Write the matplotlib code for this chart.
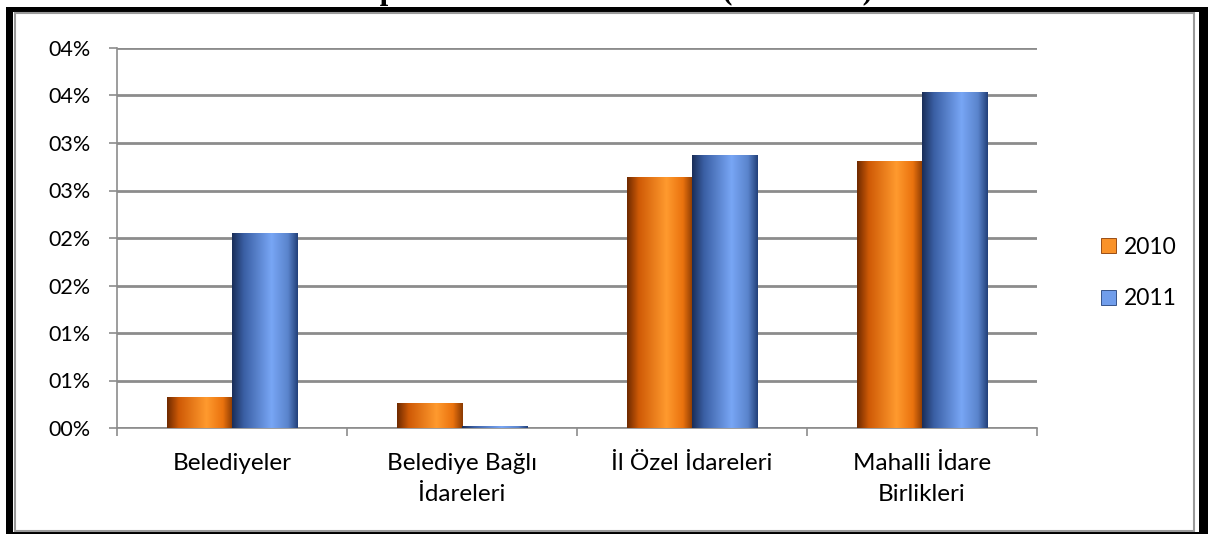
import numpy as np
import matplotlib
matplotlib.use("Agg")
import matplotlib.pyplot as plt
from matplotlib.colors import LinearSegmentedColormap
from matplotlib.patches import Rectangle, Patch

# ----------------------------- Data -----------------------------
categories = ["Belediyeler", "Belediye Bağlı\nİdareleri", "İl Özel İdareleri", "Mahalli İdare\nBirlikleri"]
years = ["2010", "2011"]
vals_2010 = [0.0033, 0.0026, 0.0264, 0.0281]
vals_2011 = [0.0205, 0.0002, 0.0287, 0.0354]
y_ticks = [0.0, 0.005, 0.01, 0.015, 0.02, 0.025, 0.03, 0.035, 0.04]
y_tick_labels = ["00%", "01%", "01%", "02%", "02%", "03%", "03%", "04%", "04%"]
title = "Toplam Harcamalara Oranı (2010-2011)"

# cylinder-like shading, dark edge -> highlight -> dark edge
orange_cm = LinearSegmentedColormap.from_list(
    "org", [(0, "#6e2a00"), (0.18, "#cf5a06"), (0.6, "#ff9a2e"), (0.85, "#ea720e"), (1, "#8a3a02")])
blue_cm = LinearSegmentedColormap.from_list(
    "blu", [(0, "#1a2e58"), (0.18, "#3a5fa4"), (0.6, "#78a6f5"), (0.85, "#5a84cc"), (1, "#22407a")])

plt.rcParams["font.family"] = ["Lato", "DejaVu Sans"]

W, H = 1208, 534
fig = plt.figure(figsize=(W / 100, H / 100), dpi=100)
fig.patch.set_facecolor("white")

# outer frame: thick black border, thin grey inner line
fig.patches.append(Rectangle((6 / W, 0), (W - 6) / W, (H - 7) / H, transform=fig.transFigure,
                             facecolor="black", edgecolor="none", zorder=-3))
fig.patches.append(Rectangle((13 / W, 2 / H), (1199 - 13) / W, (H - 12 - 2) / H, transform=fig.transFigure,
                             facecolor="white", edgecolor="none", zorder=-2))
fig.patches.append(Rectangle((15 / W, 3 / H), (1194 - 15) / W, (H - 13 - 3) / H, transform=fig.transFigure,
                             facecolor="none", edgecolor="#9a9a9a", lw=1.5, zorder=-1))

# title is mostly cut off at the top edge (as in the source image)
fig.text(610 / W, 1 + 1.5 / H, title, ha="center", va="baseline", fontsize=22,
         family=["Liberation Serif"], fontweight="bold")

ax = fig.add_axes([117 / W, 1 - 428 / H, (1037 - 117) / W, (428 - 48) / H])
ax.set_facecolor("none")

x = np.arange(len(categories))
bw = 0.283
grad = np.linspace(0, 1, 256).reshape(1, -1)

for vals, cm, off, lab in [(vals_2010, orange_cm, -bw / 2, years[0]), (vals_2011, blue_cm, bw / 2, years[1])]:
    bars = ax.bar(x + off, vals, width=bw, color=cm(0.6), edgecolor="none", zorder=3, label=lab)
    for b in bars:
        x0, y0 = b.get_x(), b.get_y()
        im = ax.imshow(grad, cmap=cm, aspect="auto", extent=(x0, x0 + b.get_width(), y0, y0 + b.get_height()),
                       zorder=4, interpolation="bilinear")
        im.set_clip_path(b)

ax.set_xlim(-0.5, len(categories) - 0.5)
ax.set_ylim(0, 0.04)

ax.set_yticks(y_ticks)
ax.set_yticklabels(y_tick_labels, fontsize=15.5)
ax.yaxis.grid(True, color="#8c8c8c", lw=2)
ax.set_axisbelow(True)

ax.set_xticks(x)
ax.set_xticklabels(categories, fontsize=17.5, linespacing=1.6)
ax.set_xticks(np.arange(len(categories) + 1) - 0.5, minor=True)
ax.tick_params(axis="x", which="major", length=0, pad=18)
ax.tick_params(axis="x", which="minor", length=6, color="#8c8c8c", width=1.2)
ax.tick_params(axis="y", length=6, color="#8c8c8c", width=1.2, pad=13)

for s in ["top", "right"]:
    ax.spines[s].set_visible(False)
ax.spines["left"].set_color("#8c8c8c")
ax.spines["bottom"].set_color("#8c8c8c")
ax.spines["left"].set_linewidth(1.2)
ax.spines["bottom"].set_linewidth(1.2)

handles = [Patch(facecolor=orange_cm(0.55), edgecolor="#8a3a02", lw=0.6),
           Patch(facecolor=blue_cm(0.55), edgecolor="#22407a", lw=0.6)]
fig.legend(handles, years, loc="center left", bbox_to_anchor=(1080 / W, 1 - 273 / H), frameon=False,
           fontsize=16.5, handlelength=0.65, handleheight=0.65, handletextpad=0.35, labelspacing=1.35)

fig.savefig("out.png", dpi=100)
